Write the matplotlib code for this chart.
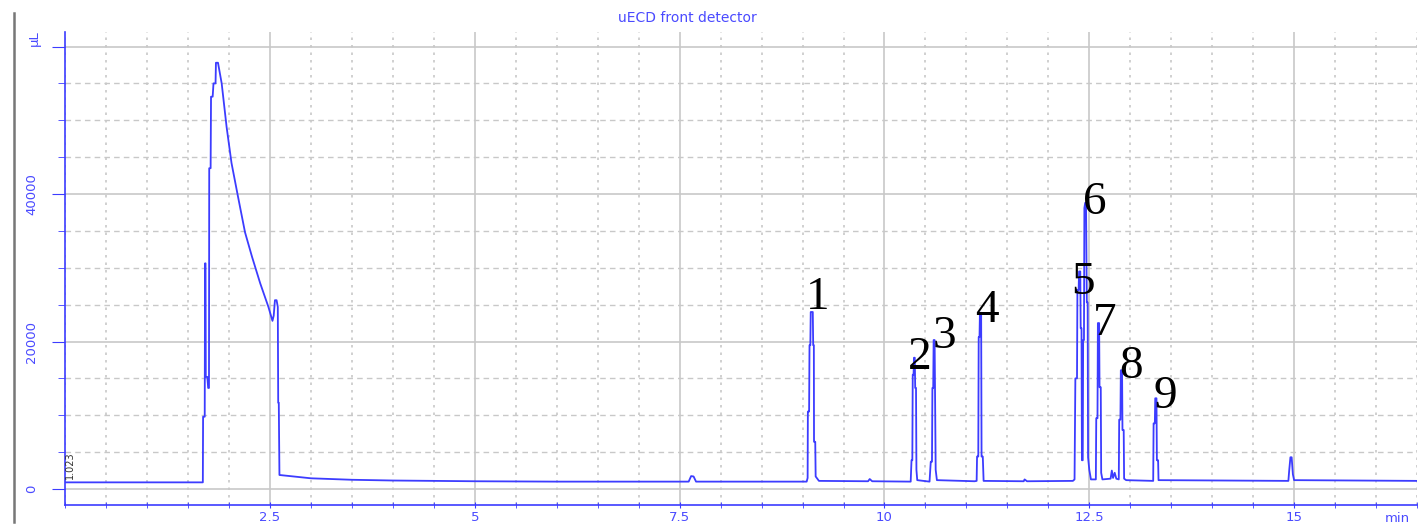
import numpy as np
import matplotlib
matplotlib.use("Agg")
import matplotlib.pyplot as plt
from matplotlib.lines import Line2D
from matplotlib.ticker import MultipleLocator

# chromatogram trace (time in min, signal)
solvent_t = [0.0, 1.68, 1.683, 1.703, 1.707, 1.713, 1.716, 1.735, 1.745, 1.755,
             1.758, 1.775, 1.78, 1.80, 1.81, 1.835, 1.84, 1.865, 1.91, 1.97,
             2.03, 2.11, 2.195, 2.28, 2.38, 2.48, 2.53, 2.545, 2.56, 2.58,
             2.595, 2.60, 2.607, 2.615, 2.87, 3.0, 3.5, 4.0, 5.0, 6.0,
             7.0, 7.61, 7.64, 7.67, 7.70, 9.0]
solvent_y = [900, 900, 9800, 9800, 30600, 30600, 15200, 15200, 13700, 13700,
             43500, 43500, 53200, 53200, 55000, 55000, 57800, 57800, 55000, 49100,
             44200, 39600, 34800, 31500, 27900, 24700, 22800, 23500, 25600, 25600,
             24700, 11700, 11700, 1900, 1600, 1450, 1250, 1150, 1050, 1000,
             1000, 1000, 1750, 1700, 1000, 1000]

early_t = [9.05, 9.062, 9.065, 9.08, 9.085, 9.095, 9.10, 9.125, 9.13, 9.138,
           9.14, 9.155, 9.16, 9.2, 9.8, 9.82, 9.85,
           10.32, 10.33, 10.34, 10.345, 10.355, 10.36, 10.37, 10.375, 10.385,
           10.39, 10.40, 10.55,
           10.565, 10.58, 10.585, 10.595, 10.60, 10.612, 10.617, 10.625, 10.64,
           11.10,
           11.125, 11.13, 11.145, 11.15, 11.16, 11.165, 11.18, 11.185, 11.20,
           11.21, 11.70, 11.71, 11.74, 12.30]
early_y = [1000, 1500, 10500, 10500, 19500, 19500, 24000, 24000, 19500, 19500,
           6400, 6400, 1700, 1100, 1050, 1350, 1050,
           1000, 3900, 3900, 15500, 15500, 17800, 17800, 13700, 13700,
           2600, 1200, 1000,
           3700, 3700, 13700, 13700, 20200, 20200, 13700, 2600, 1200,
           1050,
           1100, 4400, 4400, 20600, 20600, 23900, 23900, 4400, 4400,
           1100, 1050, 1300, 1050, 1100]

late_t = [12.32, 12.33, 12.35, 12.355, 12.37, 12.375, 12.39, 12.395, 12.405,
          12.41, 12.42, 12.425, 12.435, 12.44, 12.45, 12.46, 12.47, 12.48,
          12.485, 12.50, 12.52, 12.58,
          12.585, 12.60, 12.605, 12.62, 12.625, 12.64, 12.645, 12.66, 12.76,
          12.775, 12.79, 12.81, 12.83, 12.86,
          12.865, 12.88, 12.885, 12.90, 12.905, 12.92, 12.925, 12.95, 13.28,
          13.285, 13.30, 13.305, 13.32, 13.325, 13.34, 13.345, 14.93,
          14.94, 14.955, 14.97, 14.985, 15.0, 16.5]
late_y = [1300, 15000, 15000, 27000, 27000, 29500, 29500, 21800, 21800,
          3900, 3900, 20200, 20200, 38100, 38800, 38800, 25300, 25300,
          4300, 2600, 1300, 1300,
          9600, 9600, 22500, 22500, 13800, 13800, 2200, 1300, 1400,
          2500, 1500, 2200, 1400, 1300,
          9400, 9400, 16100, 16100, 8000, 8000, 1400, 1200, 1100,
          8900, 8900, 12300, 12300, 3900, 3900, 1200, 1100,
          2500, 4300, 4300, 2000, 1200, 1100]

# labelled peaks
peak_names = ["1", "2", "3", "4", "5", "6", "7", "8", "9"]
peak_times = [9.10, 10.36, 10.60, 11.165, 12.375, 12.45, 12.605, 12.885, 13.305]
peak_heights = [24000, 17800, 20200, 23900, 29500, 38800, 22500, 16100, 12300]
# label offsets from apex (pixels)
label_dx = [7, 6, 11, 7, 4, 10, 7, 10, 10]
label_dy = [3, -11, -8, -9, -23, -11, -12, -8, -10]

t = np.array(solvent_t + early_t + late_t)
y = np.array(solvent_y + early_y + late_y)

blue = "#3c3cff"
txtblue = "#4a4aff"
grid = "#c8c8c8"
W, H = 1419, 525

fig = plt.figure(figsize=(W / 100, H / 100), dpi=100)
ax = fig.add_axes([65.2 / W, 1 - 505 / H, (1417 - 65.2) / W, (505 - 32) / H])

ax.plot(t, y, color=blue, lw=1.3, zorder=3)

ax.set_xlim(0, 16.5)
ax.set_ylim(-2170, 61970)

ax.xaxis.set_major_locator(MultipleLocator(2.5))
ax.xaxis.set_minor_locator(MultipleLocator(0.5))
ax.yaxis.set_major_locator(MultipleLocator(20000))
ax.yaxis.set_minor_locator(MultipleLocator(5000))

ax.grid(which="major", color=grid, lw=1.2, ls="-", zorder=0)
ax.grid(which="minor", axis="x", color=grid, lw=1.2, ls=(0, (1.5, 3)), zorder=0)
ax.grid(which="minor", axis="y", color=grid, lw=1.0, ls=(0, (4, 3)), zorder=0)

for s in ["top", "right"]:
    ax.spines[s].set_visible(False)
for s in ["left", "bottom"]:
    ax.spines[s].set_color(blue)
    ax.spines[s].set_linewidth(1.2)

ax.set_xticks([2.5, 5, 7.5, 10, 12.5, 15])
ax.set_xticklabels(["2.5", "5", "7.5", "10", "12.5", "15"])
ax.set_yticks([0, 20000, 40000, 60000])
ax.set_yticklabels(["0", "20000", "40000", ""], rotation=90, va="center")

ax.tick_params(axis="x", which="both", direction="inout", length=4, color=blue,
               labelcolor=txtblue, labelsize=9.5, pad=2)
ax.tick_params(axis="y", which="major", direction="out", length=9.5, color=blue,
               labelcolor=txtblue, labelsize=9.5, pad=10)
ax.tick_params(axis="y", which="minor", direction="out", length=5, color=blue)
for lab in ax.get_xticklabels() + ax.get_yticklabels():
    lab.set_family("DejaVu Sans")

for name, pt, ph, dx, dy in zip(peak_names, peak_times, peak_heights, label_dx, label_dy):
    ax.annotate(name, xy=(pt, ph), xytext=(dx, dy), textcoords="offset pixels",
                ha="center", va="baseline", fontsize=34,
                family="Liberation Serif", color="black", zorder=4)

ax.text(0.06, 1300, "1.023", rotation=90, fontsize=7, color="#333333",
        ha="center", va="bottom", family="DejaVu Sans", zorder=4)

fig.text(687 / W, 1 - 18 / H, "uECD front detector", ha="center", va="center",
         fontsize=10, color=txtblue, family="DejaVu Sans")
fig.text(34 / W, 1 - 38 / H, "µL", ha="center", va="center", rotation=90,
         fontsize=9.5, color=txtblue, family="DejaVu Sans")
fig.text(1397 / W, 1 - 518 / H, "min", ha="center", va="center",
         fontsize=9.5, color=txtblue, family="DejaVu Sans")

fig.add_artist(Line2D([14 / W, 14 / W], [1 - 13 / H, 1 - 522 / H],
                      color="#777777", lw=1.8, transform=fig.transFigure))

fig.savefig("out.png", dpi=100)
